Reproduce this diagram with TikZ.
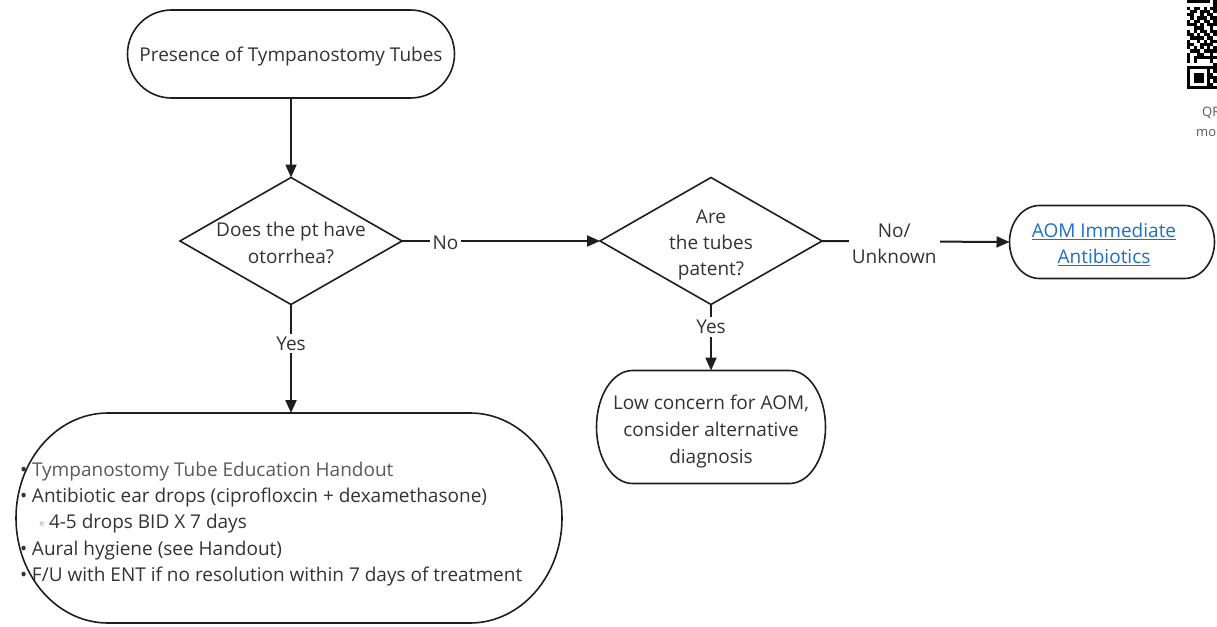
\documentclass[tikz,border=0pt]{standalone}
\usepackage{fontspec}
\setmainfont{Open Sans}
\newfontfamily\symfont{DejaVu Sans}
\usetikzlibrary{shapes.geometric,arrows.meta,calc}
\definecolor{ink}{HTML}{333333}
\definecolor{soft}{HTML}{5A5A5A}
\definecolor{edge}{HTML}{1E1E1E}
\definecolor{linkblue}{HTML}{1F6FC5}

% Capsule outline with elliptical ends around a named node: #1 node, #2 end radius (pt)
\newcommand\capsuleoutline[2]{%
  \draw[shapeline] let \p1=(#1.north west), \p2=(#1.south east) in
    (\x1+#2pt,\y1) -- (\x2-#2pt,\y1)
    arc[start angle=90,end angle=-90,x radius=#2pt,y radius={(\y1-\y2)/2}]
    -- (\x1+#2pt,\y2)
    arc[start angle=270,end angle=90,x radius=#2pt,y radius={(\y1-\y2)/2}]
    -- cycle;}

\begin{document}
\begin{tikzpicture}[x=1pt,y=-1pt,
  base/.style={font=\fontsize{19}{26.3}\selectfont, text=ink, align=center,
               inner sep=0pt, outer sep=0pt},
  shapeline/.style={draw=edge, line width=1.6pt},
  capsule/.style={base, draw=none},
  decision/.style={diamond, shapeline, inner sep=0pt, outer sep=0pt,
                   minimum width=222pt, minimum height=127pt},
  flow/.style={draw=edge, line width=2pt, -{Triangle[length=13pt,width=11pt]}},
  tag/.style={base, fill=white, inner sep=3pt},
  qrmod/.style={fill=black},
  caption/.style={font=\fontsize{13}{15}\selectfont, text=soft, anchor=west, inner sep=0pt}
]
\clip (0,0) rectangle (1217,626);
\fill[white] (0,0) rectangle (1217,626);

% ---- nodes ----
\node[capsule, minimum width=327pt, minimum height=88pt,
  label={[base, yshift=-3pt]center:Presence of Tympanostomy Tubes}] (start) at (291,54) {};

\node[decision, label={[base, yshift=-2pt]center:Does the pt have\\otorrhea?}] (q1) at (291,241) {};
\node[decision, label={[base, yshift=-4pt]center:Are\\the tubes\\patent?}] (q2) at (711,241) {};

\node[capsule, minimum width=205pt, minimum height=73pt,
  label={[base, xshift=-8pt, yshift=-2.5pt]center:%
    \color{linkblue}\underline{AOM Immediate}\\\color{linkblue}\underline{Antibiotics}}]
  (aom) at (1112,242) {};

\node[capsule, minimum width=229pt, minimum height=113pt,
  label={[base, font=\fontsize{19}{27}\selectfont, yshift=-4.5pt]center:%
    Low concern for AOM,\\consider alternative\\diagnosis}] (low) at (711,427) {};

\node[capsule, minimum width=546pt, minimum height=210pt,
  label={[base, align=left, anchor=west, xshift=4pt, yshift=-6pt]west:%
    \makebox[12pt][l]{•}{\color{soft}Tympanostomy Tube Education Handout}\\
    \makebox[12pt][l]{•}Antibiotic ear drops (ciprofloxcin + dexamethasone)\\
    \hspace{18pt}\makebox[11pt][l]{\symfont\fontsize{12}{26}\selectfont ◦}4-5 drops BID X 7 days\\
    \makebox[12pt][l]{•}Aural hygiene (see Handout)\\
    \makebox[12pt][l]{•}F/U with ENT if no resolution within 7 days of treatment}]
  (care) at (289,518) {};

\capsuleoutline{start}{44}
\capsuleoutline{aom}{30}
\capsuleoutline{low}{36}
\capsuleoutline{care}{92}

% ---- connectors ----
\draw[flow] (start.south) -- (q1.north);
\draw[flow] (q1.east) -- node[tag, pos=0.22, yshift=-2pt] {No} (q2.west);
\draw[flow] (q2.east) -- node[tag, pos=0.385, yshift=-2.5pt] {No/\\Unknown} (aom.west);
\draw[flow] (q1.south) -- node[tag, pos=0.36] {Yes} (q1.south |- care.north);
\draw[flow] (q2.south) -- node[tag, pos=0.34] {Yes} (low.north);

% ---- QR code (partly outside the page) ----
\def\m{3.3}
\foreach \r/\bits in {
  0/{1,1,1,1,1,1,1,0,1},
  1/{0,0,0,0,0,0,0,0,1},
  2/{1,0,1,1,0,1,0,1,1},
  3/{0,1,1,0,1,1,1,0,1},
  4/{1,1,0,0,1,0,1,1,0},
  5/{0,1,0,1,1,1,0,1,1},
  6/{1,0,1,1,0,1,1,0,1},
  7/{1,1,1,0,1,0,1,1,1},
  8/{0,0,1,1,1,0,0,1,0},
  9/{1,0,1,0,1,1,0,1,1},
  10/{1,1,0,1,0,1,1,0,1},
  11/{0,1,1,1,1,0,1,1,0},
  12/{1,0,0,1,0,1,0,1,1},
  13/{1,1,0,0,1,1,1,1,0},
  14/{1,0,1,0,1,0,1,0,1},
  15/{0,1,1,1,0,1,1,1,1},
  16/{1,0,0,1,1,0,0,1,0},
  17/{1,0,1,1,1,1,1,1,1},
  18/{1,0,1,0,0,0,0,1,0},
  19/{0,0,0,0,0,0,0,0,1},
  20/{0,0,0,0,0,0,0,1,1},
  21/{0,0,0,0,0,0,0,0,1},
  22/{0,0,0,0,0,0,0,1,0},
  23/{0,0,0,0,0,0,0,1,1},
  24/{0,0,0,0,0,0,0,0,1},
  25/{0,0,0,0,0,0,0,1,0},
  26/{0,0,0,0,0,0,0,1,1}} {
  \foreach \b [count=\c from 0] in \bits {
    \ifnum\b=1 \fill[qrmod] (1187+\c*\m,\r*\m) rectangle ++(\m,\m);\fi
  }
}
% finder pattern
\fill[qrmod] (1187,20*\m) rectangle ++(7*\m,7*\m);
\fill[white] (1187+\m,21*\m) rectangle ++(5*\m,5*\m);
\fill[qrmod] (1187+2*\m,22*\m) rectangle ++(3*\m,3*\m);

\node[caption] (qrcap1) at (1202,113) {QR};
\node[caption] (qrcap2) at (1196,133) {more};
\end{tikzpicture}
\end{document}
